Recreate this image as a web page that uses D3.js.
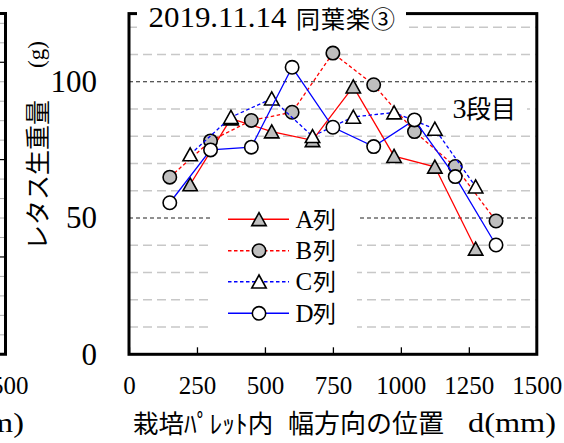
<!DOCTYPE html>
<html><head><meta charset="utf-8">
<script src="https://cdn.jsdelivr.net/npm/d3@7"></script>
<style>
html,body{margin:0;padding:0;background:#fff;}
svg{display:block;}
</style></head>
<body>
<svg id="chart" width="564" height="443"></svg>
<script>
// Lettuce fresh weight across the pallet width, row 3 (2019.11.14)
const posAC = [225, 375, 525, 675, 825, 975, 1125, 1275];
const posBD = [150, 300, 450, 600, 750, 900, 1050, 1200, 1350];
const valA = [62.3, 86.5, 81.7, 78.5, 98.2, 72.7, 68.8, 38.7];
const valB = [65.0, 78.3, 85.8, 88.8, 110.5, 98.9, 81.7, 68.9, 48.9];
const valC = [73.3, 87.0, 93.8, 80.0, 87.1, 88.7, 82.7, 61.5];
const valD = [55.6, 75.0, 76.0, 105.3, 83.3, 76.2, 86.0, 65.2, 40.1];
const seriesNames = ["A", "B", "C", "D"];
const xTicks = [0, 250, 500, 750, 1000, 1250, 1500];
const yTicks = [0, 50, 100];
const yGrid = [10, 20, 30, 40, 50, 60, 70, 80, 90, 100, 110, 120];
const titleDate = "2019.11.14";
const titleName = "同葉楽③";

const SERIF = '"Liberation Serif", "Times New Roman", serif';
const SANS = '"Noto Sans CJK JP", "Noto Sans", sans-serif';

const svg = d3.select("#chart");
const x = d3.scaleLinear().domain([0, 1500]).range([129, 536.8]);
const y = d3.scaleLinear().domain([0, 125]).range([354.3, 13.6]);

// ---- edge of the neighbouring panel (left) ----
const yL = d3.scaleLinear().domain([0, 175]).range([354.3, 13.6]);
const left = svg.append("g");
left.selectAll("line.minor").data(d3.range(10, 175, 10).filter(v => v % 50 !== 0))
  .join("line").attr("x1", 0).attr("x2", 5).attr("y1", d => yL(d)).attr("y2", d => yL(d))
  .attr("stroke", "#b0b0b0").attr("stroke-width", 1);
left.selectAll("line.major").data([50, 100, 150])
  .join("line").attr("x1", 0).attr("x2", 5).attr("y1", d => yL(d)).attr("y2", d => yL(d))
  .attr("stroke", "#000").attr("stroke-width", 1.2);
left.append("path").attr("d", `M0,${yL(175)}H5.5V${yL(0)}H0`)
  .attr("fill", "none").attr("stroke", "#000").attr("stroke-width", 3);
left.append("text").attr("x", 28.5).attr("y", 394).attr("text-anchor", "end")
  .style("font-family", SERIF).attr("font-size", 25).text("1500");
left.append("text").attr("x", 24).attr("y", 432).attr("text-anchor", "end")
  .style("font-family", SERIF).attr("font-size", 28)
  .attr("textLength", 88).attr("lengthAdjust", "spacingAndGlyphs").text("d(mm)");

// ---- grid ----
const grid = svg.append("g");
grid.selectAll("line").data(yGrid).join("line")
  .attr("x1", x(0)).attr("x2", x(1500))
  .attr("y1", d => y(d)).attr("y2", d => y(d))
  .attr("stroke", d => d % 50 === 0 ? "#222" : "#c8c8c8")
  .attr("stroke-width", d => d % 50 === 0 ? 1.2 : 1.5)
  .attr("stroke-dasharray", d => d % 50 === 0 ? "4,3" : "9,5");

// ---- axes ----
const xAxis = d3.axisBottom(x).tickValues(xTicks).tickSize(-7).tickPadding(22).tickFormat(d3.format("d"));
const gx = svg.append("g").attr("transform", `translate(0,${y(0)})`).call(xAxis);
gx.select(".domain").remove();
gx.selectAll(".tick line").attr("stroke", "#000").attr("stroke-width", 1.3);
gx.selectAll(".tick text").style("font-family", SERIF).attr("font-size", 25).attr("fill", "#000");

const yAxis = d3.axisLeft(y).tickValues(yTicks).tickSize(0).tickPadding(32);
const gy = svg.append("g").attr("transform", `translate(${x(0)},0)`).call(yAxis);
gy.select(".domain").remove();
gy.selectAll(".tick text").style("font-family", SERIF).attr("font-size", 31).attr("fill", "#000");

// frame
svg.append("rect").attr("x", x(0)).attr("y", y(125)).attr("width", x(1500) - x(0)).attr("height", y(0) - y(125))
  .attr("fill", "none").attr("stroke", "#000").attr("stroke-width", 3);

// ---- series ----
const GRAY = "#bfbfbf";
const series = [
  { name: seriesNames[0], xs: posAC, vs: valA, color: "#ff0000", dash: null, shape: "tri", fill: GRAY },
  { name: seriesNames[1], xs: posBD, vs: valB, color: "#ff0000", dash: "3.5,2.5", shape: "circ", fill: GRAY },
  { name: seriesNames[2], xs: posAC, vs: valC, color: "#0000ff", dash: "3.5,2.5", shape: "tri", fill: "#fff" },
  { name: seriesNames[3], xs: posBD, vs: valD, color: "#0000ff", dash: null, shape: "circ", fill: "#fff" }
];
const triPath = "M0,-6.7L7.2,6.3L-7.2,6.3Z";
function marker(g, s) {
  if (s.shape === "tri") {
    return g.append("path").attr("d", triPath);
  }
  return g.append("circle").attr("r", 6.7);
}
const line = d3.line().x(d => x(d[0])).y(d => y(d[1]));
series.forEach(s => {
  const pts = s.xs.map((p, i) => [p, s.vs[i]]);
  const g = svg.append("g");
  g.append("path").datum(pts).attr("d", line).attr("fill", "none")
    .attr("stroke", s.color).attr("stroke-width", 1.3)
    .attr("stroke-dasharray", s.dash);
  pts.forEach(p => {
    const mg = g.append("g").attr("transform", `translate(${x(p[0])},${y(p[1])})`);
    marker(mg, s).attr("fill", s.fill).attr("stroke", "#000").attr("stroke-width", 1.6);
  });
});

// ---- title ----
svg.append("rect").attr("x", 137).attr("y", 2).attr("width", 269).attr("height", 31).attr("fill", "#fff");
svg.append("text").attr("x", 148.5).attr("y", 27).style("font-family", SERIF).attr("font-size", 29)
  .attr("textLength", 138).attr("lengthAdjust", "spacingAndGlyphs").text(titleDate);
svg.append("text").attr("x", 296).attr("y", 27.5).style("font-family", SANS).attr("font-size", 24)
  .attr("textLength", 99).attr("lengthAdjust", "spacing").text(titleName);

// ---- row label ----
svg.append("rect").attr("x", 447).attr("y", 96).attr("width", 80).attr("height", 26).attr("fill", "#fff");
svg.append("text").attr("x", 452.5).attr("y", 118).style("font-family", SERIF).attr("font-size", 28).text("3");
svg.append("text").attr("x", 466).attr("y", 118).style("font-family", SANS).attr("font-size", 25).text("段目");

// ---- legend ----
svg.append("rect").attr("x", 212).attr("y", 202).attr("width", 145).attr("height", 134).attr("fill", "#fff");
const legY = [219.3, 250.7, 281.7, 313.3];
series.forEach((s, i) => {
  const g = svg.append("g").attr("transform", `translate(0,${legY[i]})`);
  g.append("line").attr("x1", 228).attr("x2", 289).attr("y1", 0).attr("y2", 0)
    .attr("stroke", s.color).attr("stroke-width", 1.5).attr("stroke-dasharray", s.dash);
  const mg = g.append("g").attr("transform", "translate(259,0)");
  marker(mg, s).attr("fill", s.fill).attr("stroke", "#000").attr("stroke-width", 1.6);
  g.append("text").attr("x", 295.5).attr("y", 8.4).style("font-family", SERIF).attr("font-size", 25).text(s.name);
  g.append("text").attr("x", 313).attr("y", 8.4).style("font-family", SANS).attr("font-size", 23).text("列");
});

// ---- axis titles ----
const yt = svg.append("g").attr("transform", "translate(47,250) rotate(-90)");
yt.append("text").attr("x", 0).attr("y", 0).style("font-family", SANS).attr("font-size", 25).text("レタス生重量");
yt.append("text").attr("x", 182).attr("y", -3).style("font-family", SERIF).attr("font-size", 23).text("(g)");

const xt = svg.append("g");
xt.append("text").attr("x", 133).attr("y", 433).style("font-family", SANS).attr("font-size", 25.5).text("栽培ﾊﾟﾚｯﾄ内");
xt.append("text").attr("x", 288).attr("y", 433).style("font-family", SANS).attr("font-size", 26).text("幅方向の位置");
xt.append("text").attr("x", 468).attr("y", 432).style("font-family", SERIF).attr("font-size", 28)
  .attr("textLength", 88).attr("lengthAdjust", "spacingAndGlyphs").text("d(mm)");
</script>
</body></html>
